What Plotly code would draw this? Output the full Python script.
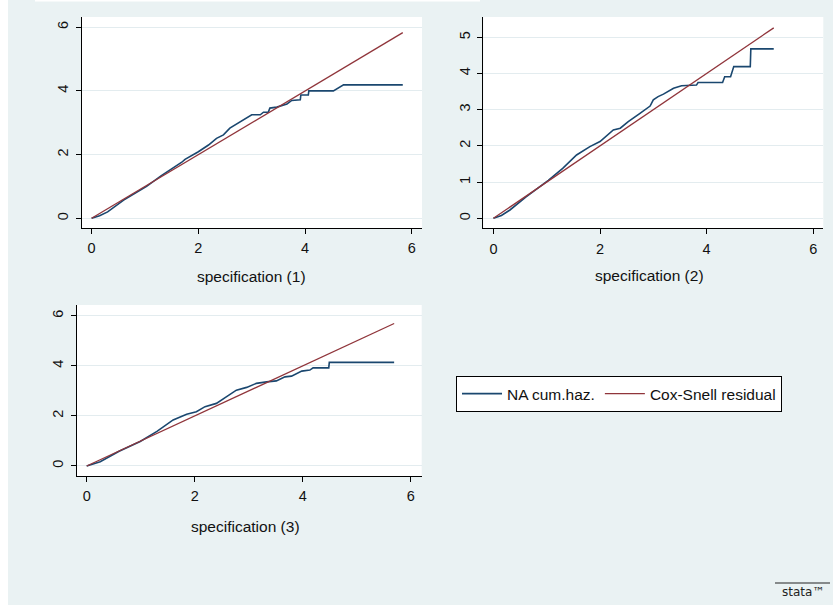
import plotly.graph_objects as go

W, H = 833, 605

# ---------------- data ----------------
spec_titles = ["specification (1)", "specification (2)", "specification (3)"]

# Nelson-Aalen cumulative hazard of Cox-Snell residuals (step-like curves)
na_x1 = [0, 0.15, 0.3, 0.6, 1.03, 1.3, 1.69, 1.75, 2.0, 2.19, 2.34, 2.47, 2.59, 2.73, 2.91,
         3.0, 3.16, 3.22, 3.31, 3.34, 3.47, 3.66, 3.75, 3.91, 3.92, 4.06, 4.07, 4.53, 4.72, 5.83]
na_y1 = [0, 0.08, 0.2, 0.57, 1.0, 1.33, 1.76, 1.85, 2.09, 2.30, 2.51, 2.62, 2.83, 2.98, 3.17,
         3.25, 3.25, 3.33, 3.33, 3.46, 3.49, 3.59, 3.70, 3.72, 3.87, 3.87, 4.0, 4.0, 4.19, 4.19]

na_x2 = [0, 0.15, 0.31, 0.6, 1.03, 1.3, 1.56, 1.81, 2.0, 2.25, 2.38, 2.53, 2.75, 2.94, 3.0,
         3.09, 3.19, 3.38, 3.53, 3.81, 3.84, 4.30, 4.34, 4.45, 4.51, 4.82, 4.83, 5.26]
na_y2 = [0, 0.08, 0.23, 0.58, 1.05, 1.38, 1.75, 1.98, 2.12, 2.44, 2.49, 2.67, 2.90, 3.10, 3.27,
         3.36, 3.43, 3.59, 3.66, 3.68, 3.75, 3.75, 3.91, 3.91, 4.19, 4.19, 4.68, 4.68]

na_x3 = [0, 0.25, 0.6, 0.99, 1.3, 1.6, 1.85, 2.03, 2.19, 2.4, 2.59, 2.77, 2.96, 3.14, 3.33,
         3.51, 3.67, 3.79, 3.98, 4.13, 4.19, 4.48, 4.49, 5.69]
na_y3 = [0, 0.17, 0.59, 0.98, 1.38, 1.84, 2.07, 2.17, 2.37, 2.50, 2.77, 3.03, 3.14, 3.30, 3.36,
         3.40, 3.56, 3.59, 3.79, 3.83, 3.92, 3.92, 4.14, 4.14]

# Cox-Snell residual reference line (residual vs itself)
cs_1 = [0, 5.83]
cs_2 = [0, 5.26]
cs_3 = [0, 5.69]

x_ticks = [0, 2, 4, 6]
y_ticks_1 = [0, 2, 4, 6]
y_ticks_2 = [0, 1, 2, 3, 4, 5]
y_ticks_3 = [0, 2, 4, 6]

legend_names = ["NA cum.haz.", "Cox-Snell residual"]

# ---------------- styling ----------------
BG = "#EAF2F3"
GRID = "#E3ECEF"
BLUE = "#1A476F"
RED = "#90353B"
FONT = "Liberation Sans, Arial, sans-serif"


def fx(p):
    return p / W


def fy(p):
    return 1 - p / H


panels = [
    # (na_x, na_y, cs, yticks, xdom px, ydom px, xrange, yrange)
    (na_x1, na_y1, cs_1, y_ticks_1, (82, 422), (17, 228), [-0.18, 6.19], [-0.305, 6.32]),
    (na_x2, na_y2, cs_2, y_ticks_2, (483.3, 823.3), (17, 228.3), [-0.19, 6.19], [-0.276, 5.56]),
    (na_x3, na_y3, cs_3, y_ticks_3, (76.7, 421.7), (305, 476), [-0.185, 6.2], [-0.4, 6.43]),
]

fig = go.Figure()
layout = dict(
    width=W, height=H,
    margin=dict(l=0, r=0, t=0, b=0),
    paper_bgcolor=BG,
    plot_bgcolor="white",
    font=dict(family=FONT, size=14, color="#111111"),
    showlegend=True,
)

annotations = []
for i, (nx, ny, cs, yt, xd, yd, xr, yr) in enumerate(panels):
    k = "" if i == 0 else str(i + 1)
    fig.add_trace(go.Scatter(
        x=nx, y=ny, mode="lines", name=legend_names[0],
        line=dict(color=BLUE, width=1.6),
        xaxis="x" + k, yaxis="y" + k, showlegend=(i == 0), hoverinfo="skip",
    ))
    fig.add_trace(go.Scatter(
        x=cs, y=cs, mode="lines", name=legend_names[1],
        line=dict(color=RED, width=1.3),
        xaxis="x" + k, yaxis="y" + k, showlegend=(i == 0), hoverinfo="skip",
    ))
    layout["xaxis" + k] = dict(
        domain=[fx(xd[0]), fx(xd[1])], anchor="y" + k, range=xr,
        tickmode="array", tickvals=x_ticks, ticks="outside", ticklen=5,
        tickcolor="#000000", showline=True, linecolor="#000000", linewidth=1,
        showgrid=False, zeroline=False, tickfont=dict(size=14.5),
        ticklabelstandoff=2,
    )
    layout["yaxis" + k] = dict(
        domain=[fy(yd[1]), fy(yd[0])], anchor="x" + k, range=yr,
        tickmode="array", tickvals=yt, ticks="outside", ticklen=5,
        tickcolor="#000000", showline=True, linecolor="#000000", linewidth=1,
        showgrid=True, gridcolor=GRID, gridwidth=1, zeroline=False,
        tickangle=-90, tickfont=dict(size=14.5), ticklabelstandoff=2,
    )

title_pos = [(251.5, 277), (649, 275), (245.5, 526)]
for t, (cx, cy) in zip(spec_titles, title_pos):
    annotations.append(dict(
        text=t, x=fx(cx), y=fy(cy), xref="paper", yref="paper",
        xanchor="center", yanchor="middle", showarrow=False,
        font=dict(size=15.5, family=FONT, color="#111111"),
    ))

# Stata logo text
annotations.append(dict(
    text="stata™", x=fx(803), y=fy(592), xref="paper", yref="paper",
    xanchor="center", yanchor="middle", showarrow=False,
    font=dict(size=12, family="DejaVu Sans, sans-serif", color="#222222"),
))

layout["annotations"] = annotations
layout["shapes"] = [
    dict(type="line", xref="paper", yref="paper", x0=fx(775), x1=fx(830),
         y0=fy(583), y1=fy(583), line=dict(color="#222222", width=1)),
    dict(type="rect", xref="paper", yref="paper", x0=0, x1=fx(8), y0=0, y1=1,
         fillcolor="white", line=dict(width=0), layer="above"),
    dict(type="rect", xref="paper", yref="paper", x0=fx(35), x1=fx(480), y0=fy(1.5), y1=1,
         fillcolor="white", line=dict(width=0), layer="above"),
]
layout["legend"] = dict(
    orientation="h", x=fx(456), y=fy(376), xanchor="left", yanchor="top",
    bgcolor="white", bordercolor="#000000", borderwidth=1,
    font=dict(size=15.5, family=FONT, color="#111111"),
    itemwidth=40,
)

fig.update_layout(**layout)
fig.write_html(
    "out.html",
    config={"displayModeBar": False},
    post_script="document.body.style.margin='0';document.body.style.overflow='hidden';",
)
